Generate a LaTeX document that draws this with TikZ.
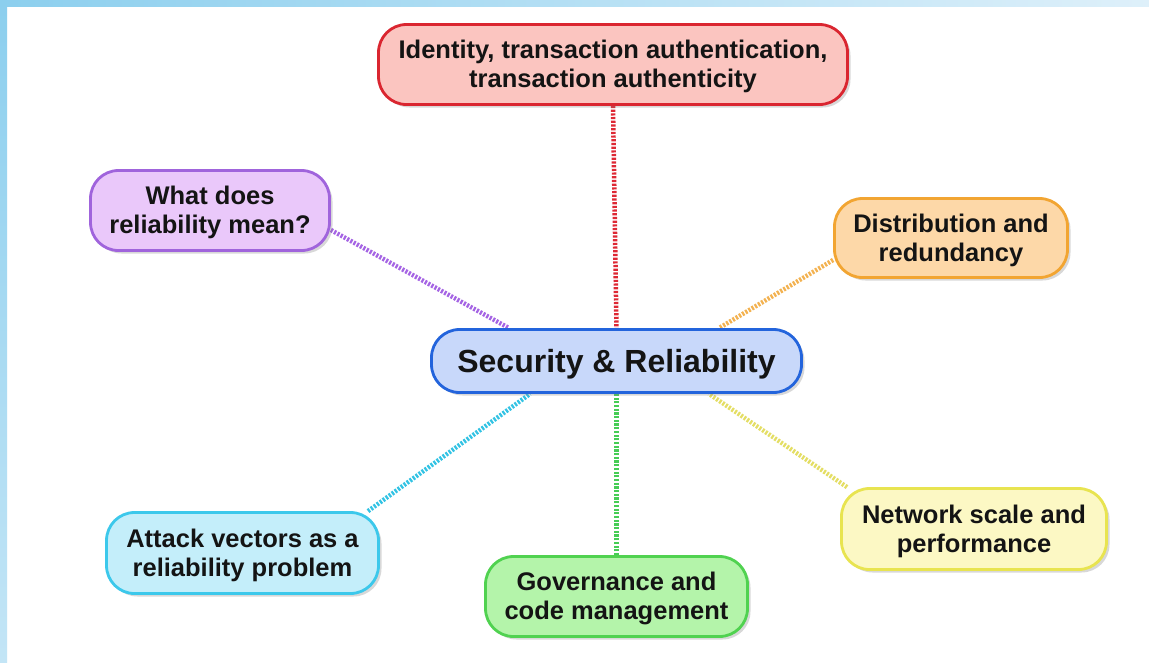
\documentclass[tikz,border=0pt]{standalone}
\usepackage{fontspec}
\setmainfont{Liberation Sans}
\usetikzlibrary{shadows,backgrounds}
\definecolor{redD}{RGB}{218,38,48}
\definecolor{redL}{RGB}{251,197,192}
\definecolor{redLine}{RGB}{222,40,52}
\definecolor{purD}{RGB}{160,100,220}
\definecolor{purL}{RGB}{234,200,250}
\definecolor{purLine}{RGB}{165,100,228}
\definecolor{oraD}{RGB}{242,165,50}
\definecolor{oraL}{RGB}{253,216,168}
\definecolor{oraLine}{RGB}{243,178,80}
\definecolor{bluD}{RGB}{35,100,220}
\definecolor{bluL}{RGB}{200,216,250}
\definecolor{yelD}{RGB}{232,228,80}
\definecolor{yelL}{RGB}{252,248,196}
\definecolor{yelLine}{RGB}{228,222,100}
\definecolor{cyaD}{RGB}{60,200,235}
\definecolor{cyaL}{RGB}{196,238,250}
\definecolor{cyaLine}{RGB}{50,195,228}
\definecolor{grnD}{RGB}{80,210,80}
\definecolor{grnL}{RGB}{180,244,170}
\definecolor{grnLine}{RGB}{70,205,85}
\definecolor{frameA}{RGB}{140,207,238}
\definecolor{frameB}{RGB}{195,229,246}
\definecolor{frameC}{RGB}{222,240,250}
\newcommand\boxtext[1]{\raisebox{-3pt}[\height][\depth]{\begin{tabular}{@{}c@{}}#1\end{tabular}}}
\begin{document}
\begin{tikzpicture}[x=1pt,y=-1pt,
  box/.style={rounded corners=28pt, line width=2.8pt, align=center,
    font=\bfseries\fontsize{25.5}{29}\selectfont, text=black!92, inner sep=0pt,
    drop shadow={shadow xshift=3pt,shadow yshift=-3pt,opacity=0.3}},
  link/.style={line width=4.5pt, dash pattern=on 2.2pt off 1.5pt}]
\useasboundingbox (0,0) rectangle (1149,662);

\node[box, draw=redD, fill=redL, minimum width=469pt, minimum height=80pt] (nred) at (613,64.5)
  {\boxtext{Identity, transaction authentication,\\transaction authenticity}};
\node[box, draw=purD, fill=purL, minimum width=239pt, minimum height=80pt] (npur) at (210,210.5)
  {\boxtext{What does\\reliability mean?}};
\node[box, draw=oraD, fill=oraL, minimum width=233pt, minimum height=79pt] (nora) at (951,238)
  {\boxtext{Distribution and\\redundancy}};
\node[box, draw=bluD, fill=bluL, minimum width=370pt, minimum height=63pt,
  font=\bfseries\fontsize{32}{36}\selectfont] (nc) at (616.5,361)
  {\raisebox{-3pt}[\height][\depth]{Security \& Reliability}};
\node[box, draw=yelD, fill=yelL, minimum width=265pt, minimum height=81pt] (nyel) at (974,529)
  {\boxtext{Network scale and\\performance}};
\node[box, draw=cyaD, fill=cyaL, minimum width=272pt, minimum height=81pt] (ncya) at (242.5,553)
  {\boxtext{Attack vectors as a\\reliability problem}};
\node[box, draw=grnD, fill=grnL, minimum width=262pt, minimum height=80pt] (ngrn) at (616.5,596.5)
  {\boxtext{Governance and\\code management}};

\begin{scope}[on background layer]
\fill[white] (0,0) rectangle (1149,662);
\shade[top color=frameA, bottom color=frameB] (0,0) rectangle (7,662);
\shade[left color=frameA, right color=frameC] (0,0) rectangle (1149,6);
\draw[link, redLine] (nred.south) -- (nc.north);
\draw[link, purLine] ([yshift=-19.5pt]npur.east) -- ([xshift=-107.5pt]nc.north);
\draw[link, oraLine] ([yshift=-22pt]nora.west) -- ([xshift=102.5pt]nc.north);
\draw[link, cyaLine] ([xshift=125.5pt]ncya.north) -- ([xshift=-86.5pt]nc.south);
\draw[link, grnLine] (ngrn.north) -- (nc.south);
\draw[link, yelLine] ([xshift=-127pt]nyel.north) -- ([xshift=92.5pt]nc.south);
\end{scope}
\end{tikzpicture}
\end{document}
